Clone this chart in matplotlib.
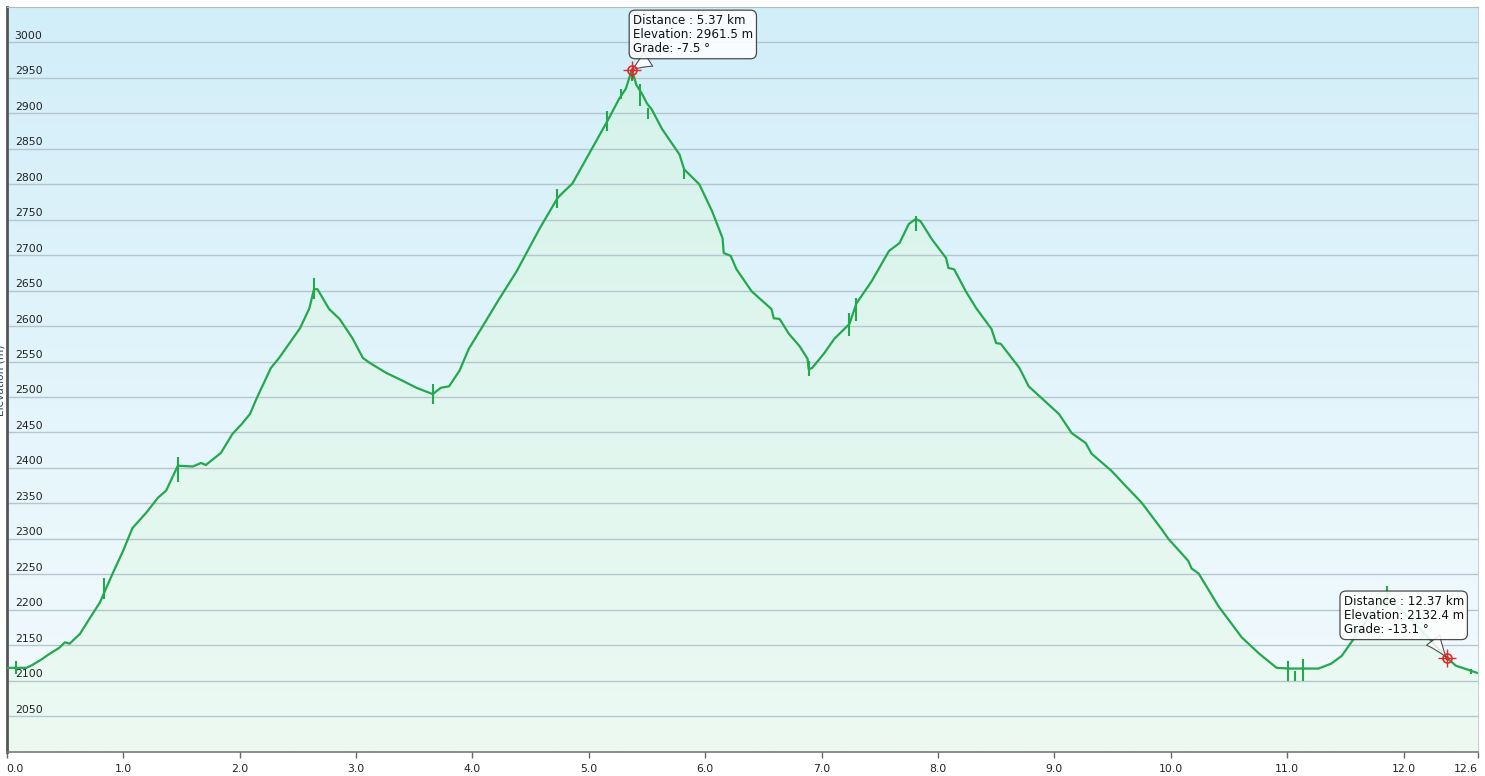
import matplotlib
matplotlib.use("Agg")
import matplotlib.pyplot as plt
import numpy as np
from matplotlib.colors import LinearSegmentedColormap
from matplotlib.transforms import blended_transform_factory, offset_copy

# Elevation profile (distance in km, elevation in m).
dist_km = [0.00, 0.17, 0.22, 0.30, 0.37, 0.45, 0.50, 0.54, 0.63, 0.71, 0.80, 0.91,
           1.00, 1.08, 1.20, 1.30, 1.37, 1.47, 1.60, 1.67, 1.71, 1.84, 1.94, 2.02,
           2.09, 2.15, 2.27, 2.34, 2.52, 2.60, 2.64, 2.67, 2.77, 2.86, 2.97, 3.06,
           3.12, 3.26, 3.40, 3.52, 3.66, 3.73, 3.80, 3.89, 3.97, 4.09, 4.23, 4.38,
           4.58, 4.73, 4.77, 4.86, 5.03, 5.16, 5.26, 5.32, 5.37, 5.41, 5.46, 5.50,
           5.54, 5.63, 5.78, 5.82, 5.95, 6.06, 6.15, 6.16, 6.22, 6.27, 6.40, 6.57,
           6.59, 6.64, 6.72, 6.81, 6.88, 6.89, 6.92, 7.02, 7.11, 7.24, 7.30, 7.43,
           7.58, 7.67, 7.75, 7.81, 7.85, 7.95, 8.07, 8.09, 8.14, 8.24, 8.33, 8.46,
           8.50, 8.54, 8.70, 8.78, 9.04, 9.15, 9.27, 9.32, 9.49, 9.61, 9.75, 9.92,
           9.98, 10.15, 10.18, 10.24, 10.41, 10.61, 10.76, 10.91, 11.01, 11.14, 11.27, 11.38,
           11.47, 11.56, 11.68, 11.79, 11.86, 11.96, 12.10, 12.24, 12.37, 12.45, 12.56, 12.63]
elev_m = [2118, 2118, 2122, 2130, 2138, 2146, 2154, 2152, 2166, 2187, 2210, 2251,
          2283, 2315, 2337, 2358, 2368, 2403, 2402, 2407, 2404, 2421, 2448, 2462,
          2476, 2499, 2541, 2555, 2597, 2625, 2652, 2652, 2624, 2610, 2583, 2555,
          2548, 2534, 2523, 2513, 2504, 2513, 2515, 2537, 2568, 2600, 2638, 2677,
          2738, 2780, 2787, 2801, 2851, 2889, 2920, 2935, 2961.5, 2940, 2927, 2914,
          2906, 2878, 2842, 2821, 2800, 2762, 2724, 2703, 2699, 2680, 2649, 2624,
          2611, 2610, 2589, 2572, 2554, 2539, 2541, 2561, 2582, 2603, 2632, 2663,
          2706, 2717, 2744, 2751, 2748, 2722, 2696, 2682, 2680, 2649, 2625, 2596,
          2576, 2575, 2541, 2515, 2476, 2449, 2435, 2420, 2396, 2375, 2351, 2314,
          2300, 2269, 2258, 2251, 2205, 2161, 2138, 2118, 2117, 2117, 2117, 2124,
          2135, 2156, 2185, 2208, 2217, 2203, 2180, 2156, 2132.4, 2121, 2115, 2111]

# Short GPS glitches drawn as vertical spikes
spike_km = [0.08, 0.84, 1.47, 2.64, 3.66, 4.73, 5.16, 5.28, 5.37, 5.44, 5.51, 5.82,
            6.89, 7.24, 7.30, 7.81, 11.01, 11.07, 11.14, 11.86, 12.58]
spike_lo = [2110, 2215, 2380, 2638, 2490, 2766, 2875, 2920, 2945, 2910, 2892, 2808,
            2530, 2586, 2607, 2734, 2100, 2100, 2100, 2203, 2110]
spike_hi = [2128, 2245, 2415, 2668, 2518, 2794, 2903, 2935, 2961, 2942, 2907, 2822,
            2551, 2618, 2639, 2755, 2128, 2114, 2131, 2234, 2117]

y_ticks = list(range(2050, 3001, 50))
x_ticks = [0, 1, 2, 3, 4, 5, 6, 7, 8, 9, 10, 11, 12, 12.64]
x_tick_labels = ["0.0", "1.0", "2.0", "3.0", "4.0", "5.0", "6.0", "7.0", "8.0",
                 "9.0", "10.0", "11.0", "12.0", "12.6"]

# Hover markers with their info boxes
marker_km = [5.37, 12.37]
marker_elev = [2961.5, 2132.4]
marker_grade = [-7.5, -13.1]

X_MAX = 12.64
Y_MIN, Y_MAX = 2000, 3050
LINE_GREEN = "#23a84e"

fig = plt.figure(figsize=(14.85, 7.76), dpi=100)
ax = fig.add_axes([6.7 / 1485, 24.5 / 776, (1478 - 6.7) / 1485, (751.5 - 7) / 776])

# sky gradient behind the chart
bg_cmap = LinearSegmentedColormap.from_list("bg", ["#f4fbfd", "#d2eef9"])
grad = np.linspace(0, 1, 256).reshape(-1, 1)
ax.imshow(grad, extent=[0, X_MAX, Y_MIN, Y_MAX], origin="lower", aspect="auto",
          cmap=bg_cmap, zorder=0)

# filled area under the profile, with its own gradient
fill = ax.fill_between(dist_km, elev_m, Y_MIN, facecolor="none", edgecolor="none", zorder=1)
fill_cmap = LinearSegmentedColormap.from_list("fill", ["#ecfaf2", "#d3f2ea"])
im = ax.imshow(grad, extent=[0, X_MAX, Y_MIN, Y_MAX], origin="lower", aspect="auto",
               cmap=fill_cmap, zorder=1)
im.set_clip_path(fill.get_paths()[0], transform=ax.transData)

# horizontal grid
for v in y_ticks:
    ax.axhline(v, color="#b5c6ce", lw=1.0, zorder=2)

ax.plot(dist_km, elev_m, color=LINE_GREEN, lw=1.6, zorder=4, solid_joinstyle="round")
ax.vlines(spike_km, spike_lo, spike_hi, color=LINE_GREEN, lw=1.5, zorder=4)

ax.set_xlim(0, X_MAX)
ax.set_ylim(Y_MIN, Y_MAX)

# y labels sit inside the plot just above their grid line
ylab_tr = offset_copy(blended_transform_factory(ax.transAxes, ax.transData),
                      fig=fig, x=8, y=3.5, units="dots")
for v in y_ticks:
    ax.text(0, v, str(v), transform=ylab_tr, ha="left", va="baseline",
            fontsize=7.8, color="#222222", zorder=5)
ax.set_yticks([])

ax.set_xticks(x_ticks)
ax.set_xticklabels(x_tick_labels, fontsize=7.8, color="#222222")
ax.tick_params(axis="x", length=4, width=1, color="#666666", pad=5)
labels = ax.get_xticklabels()
labels[0].set_ha("left")
labels[-1].set_ha("right")

ax.spines["left"].set_color("#555555")
ax.spines["left"].set_linewidth(2)
ax.spines["bottom"].set_color("#777777")
ax.spines["bottom"].set_linewidth(1.2)
ax.spines["top"].set_color("#b0bcc4")
ax.spines["right"].set_color("#c8d0d4")

# axis title, mostly clipped by the left edge as in the original
fig.text(1.0 / 1485, 0.51, "Elevation (m)", rotation=90, ha="center", va="center",
         fontsize=7.6, color="#2b4466")

# info boxes
box_offsets = [(1, 56), (-103, 63)]
arrow_rel = [(0.18, 0.0), (0.72, 0.0)]
for km, el, gr, off, rel in zip(marker_km, marker_elev, marker_grade, box_offsets, arrow_rel):
    txt = f"Distance : {km:.2f} km\nElevation: {el:.1f} m\nGrade: {gr:.1f} \u00b0"
    ax.annotate(txt, xy=(km, el), xytext=off, textcoords="offset pixels",
                ha="left", va="top", fontsize=8.6, color="#111111", linespacing=1.12,
                bbox=dict(boxstyle="round,pad=0.3,rounding_size=0.5", fc="white",
                          ec="#333333", lw=0.9, alpha=0.88),
                arrowprops=dict(arrowstyle="wedge,tail_width=1.4,shrink_factor=0.4",
                                fc="white", ec="#333333", lw=0.8, alpha=0.85,
                                relpos=rel, shrinkA=0, shrinkB=0),
                zorder=6)
    ax.plot(km, el, marker="o", ms=6.5, mfc="none", mec="#e02a2a", mew=1.2, zorder=7)
    ax.plot(km, el, marker="+", ms=13, mec="#e02a2a", mew=1.0, zorder=7)
    ax.plot(km, el, marker="o", ms=2, mfc="#e02a2a", mec="#e02a2a", zorder=7)

fig.savefig("out.png", dpi=100, facecolor="white")
